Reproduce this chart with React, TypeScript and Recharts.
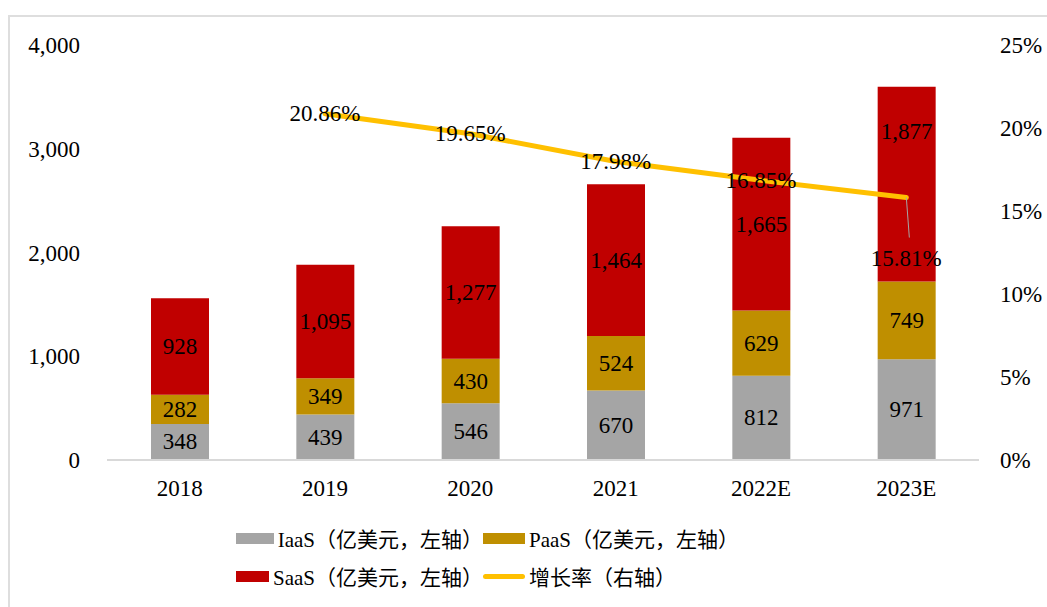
import React from 'react'
import { ComposedChart, Bar, Line, XAxis, YAxis, LabelList } from 'recharts'

const years = ['2018', '2019', '2020', '2021', '2022E', '2023E']
const iaas = [348, 439, 546, 670, 812, 971]
const paas = [282, 349, 430, 524, 629, 749]
const saas = [928, 1095, 1277, 1464, 1665, 1877]
const growth = [null, 20.86, 19.65, 17.98, 16.85, 15.81]
const leftTicks = [0, 1000, 2000, 3000, 4000]
const rightTicks = [0, 5, 10, 15, 20, 25]

const FONT = '"Times New Roman", "Liberation Serif", "Noto Sans CJK SC", serif'
const FS = 23

const data = years.map((year, i) => ({
  year,
  iaas: iaas[i],
  paas: paas[i],
  saas: saas[i],
  growth: growth[i],
}))

const fmt = (v: any) => Number(v).toLocaleString('en-US')

// segment label centered in the bar; the last SaaS one is nudged up clear of the line
const SegLabel = (props: any) => {
  const { x, y, width, height, value, index } = props
  const shift = props.lift && index === years.length - 1 ? -53 : 0
  return (
    <text x={x + width / 2} y={y + height / 2 + shift} textAnchor="middle" dominantBaseline="central" fontSize={FS} fontFamily={FONT} fill="#000">
      {fmt(value)}
    </text>
  )
}

// growth labels sit centered on the point; the last one is pulled down with a leader line
const GrowthLabel = (props: any) => {
  const { x, y, value, index } = props
  if (value == null) return null
  const text = `${Number(value).toFixed(2)}%`
  if (index === years.length - 1) {
    return (
      <g>
        <line x1={x} y1={y} x2={x + 3} y2={y + 40} stroke="#a6a6a6" strokeWidth={1} />
        <text x={x} y={y + 61} textAnchor="middle" dominantBaseline="central" fontSize={FS} fontFamily={FONT} fill="#000">
          {text}
        </text>
      </g>
    )
  }
  return (
    <text x={x} y={y} textAnchor="middle" dominantBaseline="central" fontSize={FS} fontFamily={FONT} fill="#000">
      {text}
    </text>
  )
}

const legendItems = [
  { name: 'IaaS（亿美元，左轴）', color: '#A5A5A5', line: false },
  { name: 'PaaS（亿美元，左轴）', color: '#BF8F00', line: false },
  { name: 'SaaS（亿美元，左轴）', color: '#C00000', line: false },
  { name: '增长率（右轴）', color: '#FFC000', line: true },
]

export default function App() {
  const tick = { fill: '#000', fontSize: FS, fontFamily: FONT }
  return (
    <div style={{ position: 'absolute', left: 0, top: 0, width: 1047, height: 607, background: '#fff', overflow: 'hidden', fontFamily: FONT }}>
      <div style={{ position: 'absolute', left: 8, top: 15, width: 1100, height: 700, border: '2px solid #dedede', boxSizing: 'border-box' }} />
      <ComposedChart
        width={1047}
        height={607}
        data={data}
        margin={{ top: 45, right: 0, bottom: 117, left: 0 }}
        style={{ position: 'absolute', left: 0, top: 0 }}
      >
        <XAxis
          dataKey="year"
          tick={tick}
          tickLine={false}
          axisLine={{ stroke: '#d9d9d9', strokeWidth: 2 }}
          tickMargin={14}
          height={30}
        />
        <YAxis
          yAxisId="left"
          domain={[0, 4000]}
          ticks={leftTicks}
          tickFormatter={fmt}
          tick={tick}
          tickLine={false}
          axisLine={false}
          width={107}
          tickMargin={21}
        />
        <YAxis
          yAxisId="right"
          orientation="right"
          domain={[0, 25]}
          ticks={rightTicks}
          tickFormatter={(v: any) => `${v}%`}
          tick={{ ...tick, textAnchor: 'start' }}
          tickLine={false}
          axisLine={false}
          width={68}
          tickMargin={15}
        />
        <Bar yAxisId="left" dataKey="iaas" stackId="a" fill="#A5A5A5" barSize={58} isAnimationActive={false}>
          <LabelList dataKey="iaas" content={SegLabel} />
        </Bar>
        <Bar yAxisId="left" dataKey="paas" stackId="a" fill="#BF8F00" barSize={58} isAnimationActive={false}>
          <LabelList dataKey="paas" content={SegLabel} />
        </Bar>
        <Bar yAxisId="left" dataKey="saas" stackId="a" fill="#C00000" barSize={58} isAnimationActive={false}>
          <LabelList dataKey="saas" content={(p: any) => <SegLabel {...p} lift />} />
        </Bar>
        <Line
          yAxisId="right"
          dataKey="growth"
          stroke="#FFC000"
          strokeWidth={5}
          strokeLinecap="round"
          dot={false}
          activeDot={false}
          isAnimationActive={false}
        >
          <LabelList dataKey="growth" content={GrowthLabel} />
        </Line>
      </ComposedChart>
      <div style={{ position: 'absolute', left: 236, top: 525, display: 'grid', gridTemplateColumns: '247px 300px', rowGap: 12, fontSize: 21, color: '#000' }}>
        {legendItems.map((it) => (
          <div key={it.name} style={{ display: 'flex', alignItems: 'center', height: 26, whiteSpace: 'nowrap' }}>
            <span
              style={{
                display: 'inline-block',
                width: 42,
                height: it.line ? 5 : 11,
                background: it.color,
                borderRadius: it.line ? 3 : 0,
                marginRight: 4,
              }}
            />
            <span>{it.name}</span>
          </div>
        ))}
      </div>
    </div>
  )
}
